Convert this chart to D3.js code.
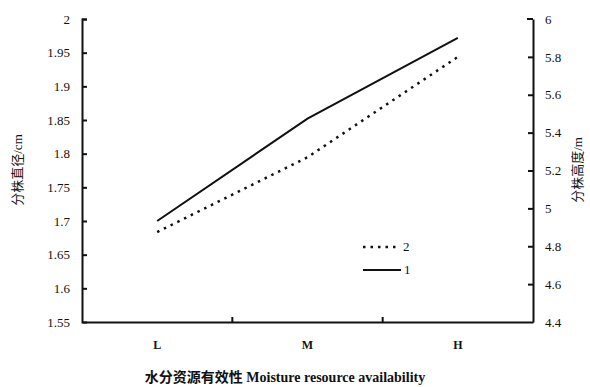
<!DOCTYPE html>
<html>
<head>
<meta charset="utf-8">
<script src="https://cdn.jsdelivr.net/npm/d3@7"></script>
<style>
    body { margin: 0; background: #fff; }
    text { font-family: "Liberation Serif", "Noto Sans CJK SC", serif; fill: #111; }
    .axis path, .axis line { stroke: #111; stroke-width: 2px; }
</style>
</head>
<body>
<div id="chart"></div>
<script>
// categories and series (1 = diameter, left axis; 2 = height, right axis)
let categories = ["L", "M", "H"];
let diameter = [1.70, 1.852, 1.972];
let height = [4.875, 5.27, 5.80];
let leftTicks = [1.55, 1.6, 1.65, 1.7, 1.75, 1.8, 1.85, 1.9, 1.95, 2];
let rightTicks = [4.4, 4.6, 4.8, 5, 5.2, 5.4, 5.6, 5.8, 6];

let margin = {top: 19, right: 57, bottom: 65, left: 82};
let W = 590, H = 387;
let width = W - margin.left - margin.right;
let h = H - margin.top - margin.bottom;

let svg = d3.select("#chart").append("svg")
    .attr("width", W)
    .attr("height", H);

let g = svg.append("g")
    .attr("transform", `translate(${margin.left}, ${margin.top})`);

// scales
let x = d3.scaleBand().domain(categories).range([0, width]);
let yL = d3.scaleLinear().domain([1.55, 2]).range([h, 0]);
let yR = d3.scaleLinear().domain([4.4, 6]).range([h, 0]);

// axes
let xAxis = g.append("g")
    .attr("class", "axis")
    .attr("transform", `translate(0, ${h})`)
    .call(d3.axisBottom(x).tickSizeInner(0).tickSizeOuter(0).tickPadding(18));
xAxis.selectAll("text").attr("font-size", "12px").attr("font-weight", "bold");
// boundary ticks between categories, pointing up
xAxis.selectAll(".sep")
    .data(categories.slice(1))
    .enter().append("line")
    .attr("x1", d => x(d)).attr("x2", d => x(d))
    .attr("y1", 0).attr("y2", -5);

let yAxisL = g.append("g")
    .attr("class", "axis")
    .call(d3.axisLeft(yL).tickValues(leftTicks).tickFormat(d3.format("")).tickSizeInner(-5).tickSizeOuter(-5).tickPadding(12));
yAxisL.selectAll("text").attr("font-size", "13px");
yAxisL.selectAll(".tick").filter(d => d === 1.55).select("line").remove();

let yAxisR = g.append("g")
    .attr("class", "axis")
    .attr("transform", `translate(${width}, 0)`)
    .call(d3.axisRight(yR).tickValues(rightTicks).tickFormat(d3.format("")).tickSizeInner(-5).tickSizeOuter(0).tickPadding(12));
yAxisR.selectAll("text").attr("font-size", "13px");
yAxisR.selectAll(".tick").filter(d => d === 4.4 || d === 6).select("line").remove();
yAxisR.append("line").attr("x1", 0).attr("x2", -6).attr("y1", 0).attr("y2", 0);

// lines
let cx = d => x(d) + x.bandwidth() / 2;

g.append("path")
    .datum(categories.map((c, i) => [c, diameter[i]]))
    .attr("fill", "none")
    .attr("stroke", "#111")
    .attr("stroke-width", 2)
    .attr("d", d3.line().x(d => cx(d[0])).y(d => yL(d[1])));

g.append("path")
    .datum(categories.map((c, i) => [c, height[i]]))
    .attr("fill", "none")
    .attr("stroke", "#111")
    .attr("stroke-width", 2.5)
    .attr("stroke-dasharray", "2.5,5")
    .attr("d", d3.line().x(d => cx(d[0])).y(d => yR(d[1])));

// legend
let legend = svg.append("g").attr("transform", "translate(363, 247)");
legend.append("line").attr("x1", 0).attr("x2", 36).attr("y1", 0).attr("y2", 0)
    .attr("stroke", "#111").attr("stroke-width", 2.5).attr("stroke-dasharray", "2.5,5");
legend.append("text").attr("x", 40).attr("y", 4).attr("font-size", "13px").text("2");
legend.append("line").attr("x1", 0).attr("x2", 38).attr("y1", 23).attr("y2", 23)
    .attr("stroke", "#111").attr("stroke-width", 2);
legend.append("text").attr("x", 41).attr("y", 27).attr("font-size", "13px").text("1");

// axis titles
svg.append("text")
    .attr("transform", "translate(22, 170) rotate(-90)")
    .attr("text-anchor", "middle")
    .attr("font-size", "13px")
    .text("分株直径/cm");

svg.append("text")
    .attr("transform", "translate(582, 170) rotate(-90)")
    .attr("text-anchor", "middle")
    .attr("font-size", "13px")
    .text("分株高度/m");

svg.append("text")
    .attr("x", 285)
    .attr("y", 382)
    .attr("text-anchor", "middle")
    .attr("font-size", "14px")
    .attr("font-weight", "bold")
    .text("水分资源有效性 Moisture resource availability");
</script>
</body>
</html>
